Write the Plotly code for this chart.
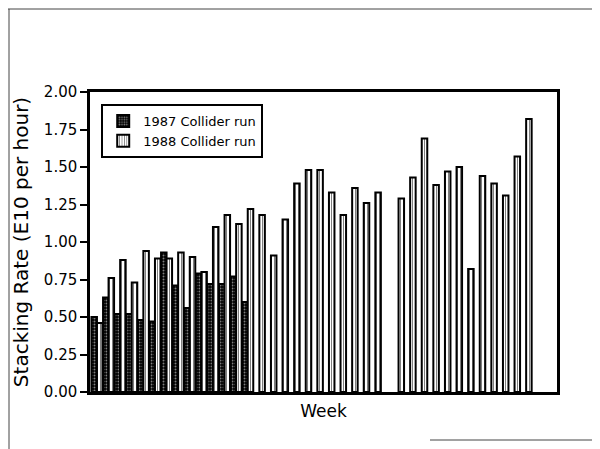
import plotly.graph_objects as go

weeks = list(range(1, 39))
run_1987 = [0.50, 0.63, 0.52, 0.52, 0.48, 0.47, 0.93, 0.71, 0.56, 0.79,
            0.72, 0.72, 0.77, 0.60] + [None] * 24
run_1988 = [0.46, 0.76, 0.88, 0.73, 0.94, 0.89, 0.89, 0.93, 0.90, 0.80,
            1.10, 1.18, 1.12, 1.22, 1.18, 0.91, 1.15, 1.39, 1.48, 1.48,
            1.33, 1.18, 1.36, 1.26, 1.33, None, 1.29, 1.43, 1.69, 1.38,
            1.47, 1.50, 0.82, 1.44, 1.39, 1.31, 1.57, 1.82]
y_ticks = [0, 0.25, 0.5, 0.75, 1.0, 1.25, 1.5, 1.75, 2.0]

font = "DejaVu Sans"

fig = go.Figure()
fig.add_trace(go.Bar(
  x=weeks, y=run_1987, name="1987 Collider run",
  marker=dict(color="black", line=dict(color="black", width=2),
              pattern=dict(shape=".", fgcolor="white", bgcolor="black", size=3, solidity=0.35))))
fig.add_trace(go.Bar(
  x=weeks, y=run_1988, name="1988 Collider run",
  marker=dict(color="white", line=dict(color="black", width=2),
              pattern=dict(shape="|", fgcolor="black", bgcolor="white", size=3, solidity=0.35))))

# scanned page edges (screen px -> paper)
def px(x): return (x - 90) / 467
def py(y): return (392 - y) / 300
page = [(0, 9, 600, 9), (9, 9, 9, 449), (430, 440, 600, 440)]
shapes = [dict(type="line", xref="paper", yref="paper", x0=px(a), y0=py(b), x1=px(c), y1=py(d),
               line=dict(color="#444", width=1)) for a, b, c, d in page]

# page body has an 8px margin, so margins are shifted to compensate
fig.update_layout(
  width=600, height=449,
  margin=dict(l=82, r=51, t=84, b=65, autoexpand=False),
  paper_bgcolor="white", plot_bgcolor="white",
  font=dict(family=font, color="black"),
  barmode="group", bargap=0.05, bargroupgap=0,
  showlegend=True,
  legend=dict(x=0.024, y=0.96, xanchor="left", yanchor="top",
              bordercolor="black", borderwidth=2, bgcolor="white",
              font=dict(size=13, family=font), itemwidth=30, tracegroupgap=0),
  shapes=shapes,
  xaxis=dict(range=[0.4, 40.66], showticklabels=False, ticks="", showgrid=False,
             zeroline=False, showline=True, linecolor="black", linewidth=2.5, mirror=True,
             automargin=False,
             title=dict(text="Week", font=dict(size=17, family=font), standoff=12)),
  yaxis=dict(range=[0, 2.0], tickvals=y_ticks, tickformat=".2f", ticks="outside",
             ticklen=7, tickwidth=1.5, tickcolor="black", showgrid=False, zeroline=False,
             showline=True, linecolor="black", linewidth=2.5, mirror=True, automargin=False,
             tickfont=dict(size=15, family=font),
             title=dict(text="Stacking Rate (E10 per hour)", font=dict(size=20, family=font), standoff=10)),
)

fig.write_html("out.html")
